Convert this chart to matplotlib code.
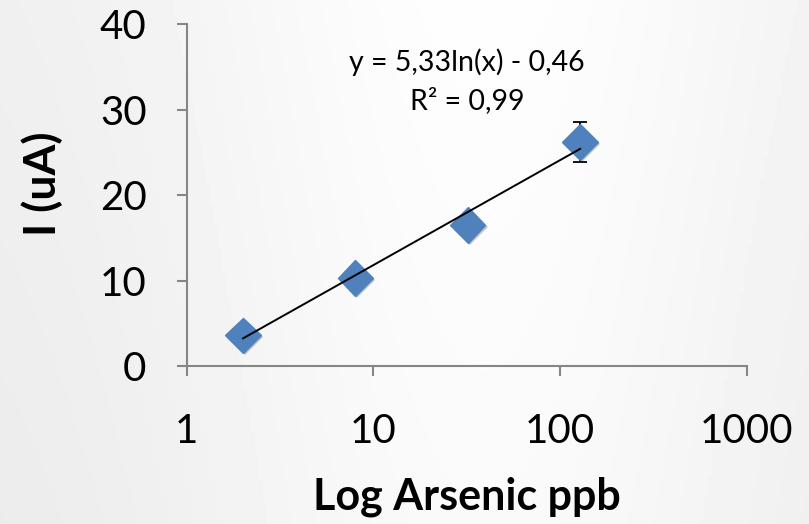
import numpy as np
import matplotlib
matplotlib.use("Agg")
import matplotlib.pyplot as plt
import matplotlib.patheffects as pe

# Data
conc_ppb = [2, 8, 32, 128]
current_uA = [3.6, 10.3, 16.5, 26.2]
err_uA = [0.0, 0.0, 0.0, 2.3]
fit_a = 5.33
fit_b = -0.46
eq_text = "y = 5,33ln(x) - 0,46"
r2_text = "R² = 0,99"
xticks = [1, 10, 100, 1000]
xticklabels = ["1", "10", "100", "1000"]
yticks = [0, 10, 20, 30, 40]

font = ["Lato", "DejaVu Sans"]
plt.rcParams['font.family'] = font

fig = plt.figure(figsize=(8.09, 5.24), dpi=100)
fig.patch.set_facecolor("#f4f4f4")

# subtle background gradient
bg = fig.add_axes([0, 0, 1, 1], zorder=-10)
gx = np.linspace(0, 1, 200)
gy = np.linspace(0, 1, 120)
GX, GY = np.meshgrid(gx, gy)
grad = 0.935 + 0.06 * np.exp(-((GX - 0.6) ** 2) / 0.15) - 0.015 * GY
bg.imshow(grad, cmap="gray", vmin=0, vmax=1, aspect="auto", extent=[0, 1, 0, 1])
bg.axis("off")

ax = fig.add_axes([0.231, 0.3015, 0.692, 0.6525])
ax.set_facecolor("none")
ax.set_xscale("log")
ax.set_xlim(1, 1000)
ax.set_ylim(0, 40)

# trendline
xs = np.logspace(np.log10(conc_ppb[0]), np.log10(conc_ppb[-1]), 50)
ax.plot(xs, fit_a * np.log(xs) + fit_b, color="black", lw=1.4, zorder=4)

# error bars
ax.errorbar(conc_ppb, current_uA, yerr=err_uA, fmt="none", ecolor="black",
            elinewidth=1.3, capsize=5, capthick=1.3, zorder=2)
# markers
ax.plot(conc_ppb, current_uA, linestyle="none", marker="D", markersize=18,
        color="#4F81BD", markeredgecolor="#4F81BD", zorder=3,
        path_effects=[pe.SimplePatchShadow(offset=(1.5, -1.5), alpha=0.25), pe.Normal()])

for s in ["top", "right"]:
    ax.spines[s].set_visible(False)
for s in ["left", "bottom"]:
    ax.spines[s].set_color("#868686")
    ax.spines[s].set_linewidth(1.5)

ax.set_xticks(xticks)
ax.set_xticklabels(xticklabels)
ax.xaxis.set_minor_locator(matplotlib.ticker.NullLocator())
ax.set_yticks(yticks)
ax.tick_params(axis="both", colors="#868686", width=1.5, length=7, labelsize=29,
               labelcolor="black")
ax.tick_params(axis="x", pad=27)
ax.tick_params(axis="y", pad=22)

fig.text(0.577, 0.882, eq_text, ha="center", va="center", fontsize=20.5)
fig.text(0.577, 0.808, r2_text, ha="center", va="center", fontsize=20.5)

fig.text(0.577, 0.052, "Log Arsenic ppb", ha="center", va="center",
         fontsize=31, fontweight="bold")
fig.text(0.052, 0.65, "I (uA)", ha="center", va="center", rotation=90,
         fontsize=32, fontweight="bold")

fig.savefig("out.png", dpi=100, facecolor=fig.get_facecolor())
